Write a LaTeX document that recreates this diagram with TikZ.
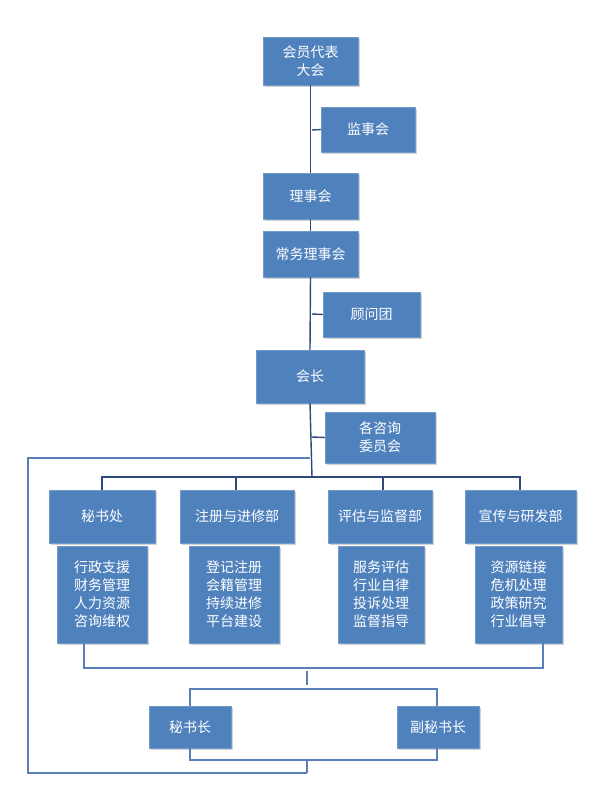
\documentclass[tikz,border=0pt]{standalone}
\usepackage{fontspec}
\setmainfont{Noto Sans CJK SC}
\usetikzlibrary{shadows}
\definecolor{bx}{HTML}{4F81BD}
\definecolor{ln}{HTML}{5B7FB8}
\definecolor{dk}{HTML}{2E4A7A}
\begin{document}
\begin{tikzpicture}[x=1pt,y=-1pt,
  box/.style={fill=bx,draw=bx!80!white,text=white,font=\fontsize{14}{18}\selectfont,align=center,inner sep=0pt,
    drop shadow={shadow xshift=2pt,shadow yshift=-2pt,fill=black!35}},
  ln/.style={draw=ln,line width=1.2pt},
  dkl/.style={draw=dk,line width=1.4pt}]
\useasboundingbox (0,0) rectangle (600,800);
\newcommand{\bx}[6]{\node[box,minimum width=#3-#2,minimum height=#5-#4] (#1) at ({(#2+#3)/2},{(#4+#5)/2}) {#6};}
\bx{a}{263}{358}{37}{85}{会员代表\\大会}
\bx{b}{321}{415}{107}{152}{监事会}
\bx{c}{263}{358}{173}{219}{理事会}
\bx{d}{263}{358}{231}{277}{常务理事会}
\bx{e}{323}{420}{292}{337}{顾问团}
\bx{f}{256}{364}{350}{403}{会长}
\bx{g}{325}{435}{412}{463}{各咨询\\委员会}
\bx{s1}{49}{155}{490}{543}{秘书处}
\bx{s2}{180}{294}{490}{543}{注册与进修部}
\bx{s3}{328}{432}{490}{543}{评估与监督部}
\bx{s4}{465}{576}{490}{543}{宣传与研发部}
\bx{t1}{57}{147}{546}{643}{行政支援\\财务管理\\人力资源\\咨询维权}
\bx{t2}{189}{279}{546}{643}{登记注册\\会籍管理\\持续进修\\平台建设}
\bx{t3}{338}{424}{546}{643}{服务评估\\行业自律\\投诉处理\\监督指导}
\bx{t4}{475}{562}{546}{643}{资源链接\\危机处理\\政策研究\\行业倡导}
\bx{m1}{149}{231}{706}{748}{秘书长}
\bx{m2}{397}{479}{706}{748}{副秘书长}
% main spine
\draw[dkl] (a.south) -- (a.south |- c.north);
\draw[dkl] (312,130) -- (b.west);
\draw[dkl] (c.south) -- (d.north);
\draw[dkl] (d.south) -- (f.north);
\draw[dkl] (312,314) -- (e.west);
\draw[dkl] (f.south) -- (312,477);
\draw[dkl] (312,437) -- (g.west);
\draw[dkl] (102,490) -- (102,477) -- (520,477) -- (520,490);
\draw[dkl] (236,477) -- (236,490);
\draw[dkl] (383,477) -- (383,490);
\coordinate (L1) at (310,458);
\coordinate (L2) at (307,773);
\draw[ln] (L1) -- (28,458) -- (28,773) -- (L2);
\draw[ln] (84,643) -- (84,668) -- (543,668) -- (543,643);
\draw[ln] (307,671) -- (307,685);
\draw[ln] (m1.north -| 190,0) -- (190,689) -- (437,689) -- (m2.north -| 437,0);
\draw[ln] (m1.south -| 190,0) -- (190,760) -- (437,760) -- (m2.south -| 437,0);
\draw[ln] (307,760) -- (L2);
\end{tikzpicture}
\end{document}
